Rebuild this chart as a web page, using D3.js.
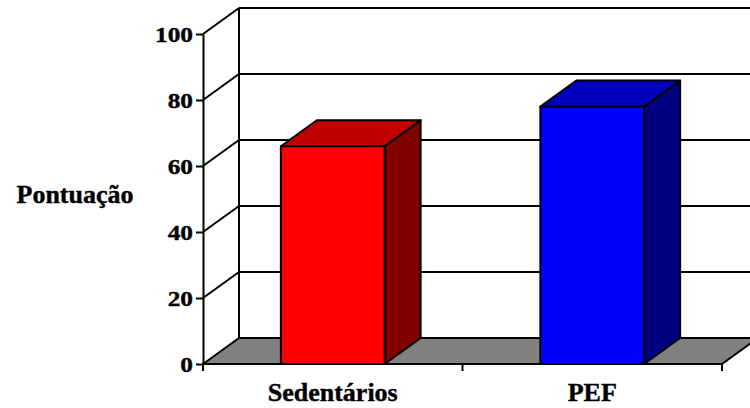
<!DOCTYPE html>
<html>
<head>
<meta charset="utf-8">
<script src="https://cdn.jsdelivr.net/npm/d3@7"></script>
<style>
  html, body { margin: 0; padding: 0; background: #fff; }
  svg { display: block; }
  text { font-family: "Liberation Serif", "Times New Roman", serif; font-weight: bold; fill: #000; stroke: #000; stroke-width: 0.4px; }
</style>
</head>
<body>
<div id="chart"></div>
<script>
// Scores per group
const categories = ["Sedentários", "PEF"];
const scores = [66, 78];
const yTicks = [0, 20, 40, 60, 80, 100];
const axisTitle = "Pontuação";

const frontColors = ["#ff0000", "#0000ff"];
const topColors = ["#c00000", "#0000c0"];
const sideColors = ["#800000", "#000080"];

const W = 750, H = 408;
const depthX = 36, depthY = -26;   // oblique offset of the back plane
const labelScaleX = 1.04;          // wide bold lettering
const tickScaleX = 1.15;

const svg = d3.select("#chart").append("svg")
  .attr("width", W).attr("height", H);

const y = d3.scaleLinear().domain([0, 100]).range([364, 34]);
const x = d3.scaleBand().domain(categories).range([203, 722]).padding(0);
const barW = x.bandwidth() * 0.4;

const x0 = x.range()[0], x1 = x.range()[1];
const line = (pts) => d3.line()(pts);

// floor
svg.append("path")
  .attr("d", line([[x0, y(0)], [x1, y(0)], [x1 + depthX, y(0) + depthY], [x0 + depthX, y(0) + depthY]]) + "Z")
  .attr("fill", "#808080").attr("stroke", "#000").attr("stroke-width", 2).attr("stroke-linejoin", "round");

// back wall and side wall gridlines
const g = svg.append("g").attr("fill", "none").attr("stroke", "#000").attr("stroke-width", 2);
yTicks.forEach(t => {
  if (t === 0) return;
  g.append("path").attr("d", line([[x0 + depthX, y(t) + depthY], [x1 + depthX, y(t) + depthY]]));
  g.append("path").attr("d", line([[x0, y(t)], [x0 + depthX, y(t) + depthY]]));
});
g.append("path").attr("d", line([[x0 + depthX, y(0) + depthY], [x0 + depthX, y(100) + depthY]]));

// bars
const bars = svg.append("g").attr("stroke", "#000").attr("stroke-width", 2).attr("stroke-linejoin", "round");
categories.forEach((c, i) => {
  const bx = x(c) + (x.bandwidth() - barW) / 2;
  const top = y(scores[i]), base = y(0);
  bars.append("path")
    .attr("d", line([[bx + barW, base], [bx + barW + depthX, base + depthY], [bx + barW + depthX, top + depthY], [bx + barW, top]]) + "Z")
    .attr("fill", sideColors[i]);
  bars.append("path")
    .attr("d", line([[bx, top], [bx + barW, top], [bx + barW + depthX, top + depthY], [bx + depthX, top + depthY]]) + "Z")
    .attr("fill", topColors[i]);
  bars.append("rect")
    .attr("x", bx).attr("y", top).attr("width", barW).attr("height", base - top)
    .attr("fill", frontColors[i]);
});

// value axis
const yAxis = svg.append("g").attr("transform", `translate(${x0},0)`)
  .call(d3.axisLeft(y).tickValues(yTicks).tickSize(7).tickPadding(3).tickSizeOuter(0));
yAxis.select(".domain").attr("stroke", "#000").attr("stroke-width", 2);
yAxis.selectAll(".tick line").attr("stroke", "#000").attr("stroke-width", 2);
yAxis.selectAll(".tick text")
  .attr("font-size", 22).attr("dy", "0.33em")
  .attr("transform", function () { const tx = +d3.select(this).attr("x"); return `translate(${tx},0) scale(${tickScaleX},1) translate(${-tx},0)`; });

// category axis
const xa = svg.append("g");
xa.append("path").attr("d", line([[x0, y(0)], [x1, y(0)]])).attr("stroke", "#000").attr("stroke-width", 2);
const edges = categories.map(c => x(c)).concat([x1]);
xa.selectAll("line.edge").data(edges).join("line")
  .attr("x1", d => d).attr("x2", d => d).attr("y1", y(0)).attr("y2", y(0) + 7)
  .attr("stroke", "#000").attr("stroke-width", 2);
xa.selectAll("text").data(categories).join("text")
  .attr("text-anchor", "middle").attr("font-size", 25)
  .attr("transform", d => `translate(${x(d) + x.bandwidth() / 2},401) scale(${labelScaleX},1)`)
  .text(d => d);

// axis title
svg.append("text")
  .attr("text-anchor", "middle").attr("font-size", 25)
  .attr("transform", `translate(75,203) scale(${labelScaleX},1)`)
  .text(axisTitle);
</script>
</body>
</html>
